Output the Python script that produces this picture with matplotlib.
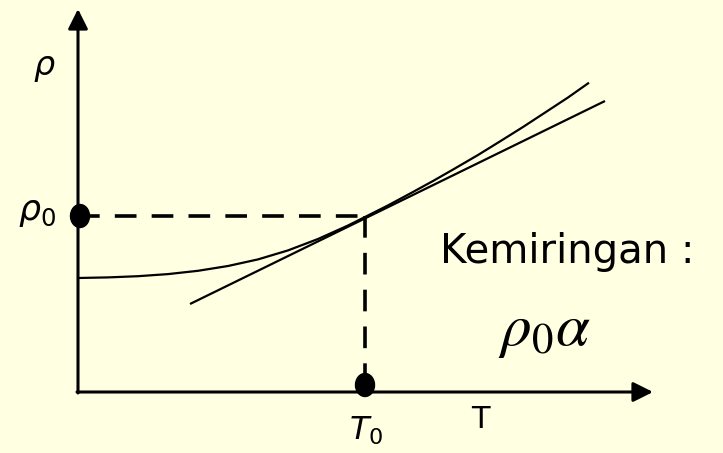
"""
Resistivity vs temperature sketch: curve, tangent at T0 and slope label.
Coordinates are in pixel-like units measured from the axis origin.
"""
import matplotlib; matplotlib.use("Agg")
from matplotlib import pyplot as plt
from matplotlib.patches import Ellipse

BG = "#FFFFE1"

# ---- data ----
curve_x = [0, 30, 60, 90, 120, 150, 180, 210, 240, 270, 287, 310, 332, 355, 377, 400, 422,
           445, 467, 490, 511]
curve_y = [114, 114.6, 115.8, 117.9, 121.2, 126.0, 132.6, 141.6, 153.0, 166.5, 175, 186.6,
           198.4, 211, 223.6, 237, 250.6, 265, 279.4, 294.5, 309.3]
tangent_x = [112, 527]
tangent_y = [88, 291]
T0, rho0 = 287, 176
axis_top, axis_right = 383, 575

plt.rcParams["font.family"] = ["DejaVu Sans"]
fig = plt.figure(figsize=(7.23, 4.53), dpi=100, facecolor=BG)
ax = fig.add_axes([0, 0, 1, 1], facecolor=BG)
ax.set_xlim(-78, 645); ax.set_ylim(-61, 392)
ax.axis("off")

# axes with arrowheads
arrow = dict(arrowstyle="-|>,head_length=0.6,head_width=0.3", lw=2.2, color="k",
             mutation_scale=20, shrinkA=0, shrinkB=0)
ax.annotate("", xy=(0, axis_top), xytext=(0, -1), arrowprops=arrow)
ax.annotate("", xy=(axis_right, 0), xytext=(-1, 0), arrowprops=arrow)

# curve + tangent
ax.plot(curve_x, curve_y, color="k", lw=1.6, solid_capstyle="butt", solid_joinstyle="round")
ax.plot(tangent_x, tangent_y, color="k", lw=1.6, solid_capstyle="butt")

# dashed guides
ax.plot([0, T0], [rho0, rho0], color="k", lw=2.6, dashes=(6, 4.2))
ax.plot([T0, T0], [rho0, 0], color="k", lw=2.6, dashes=(6, 4.2))

# dots on the axes
ax.add_patch(Ellipse((2, rho0), 19, 23, color="k", zorder=5))
ax.add_patch(Ellipse((T0, 7), 19, 23, color="k", zorder=5))

# labels
ax.text(-34, 324, r"$\rho$", fontsize=24, ha="center", va="center", math_fontfamily="dejavusans")
ax.text(-41, 180, r"$\rho_{\mathit{0}}$", fontsize=25, ha="center", va="center",
        math_fontfamily="dejavusans")
ax.text(288, -39, r"$T_{\mathit{0}}$", fontsize=23, ha="center", va="center",
        math_fontfamily="dejavusans")
ax.text(402, -28, "T", fontsize=22, ha="center", va="center")
ax.text(489, 140, "Kemiringan :", fontsize=29, ha="center", va="center")
ax.text(466, 62, r"$\rho_0\alpha$", fontsize=44, ha="center", va="center", math_fontfamily="stix")

fig.savefig("out.png", dpi=100, facecolor=BG)
